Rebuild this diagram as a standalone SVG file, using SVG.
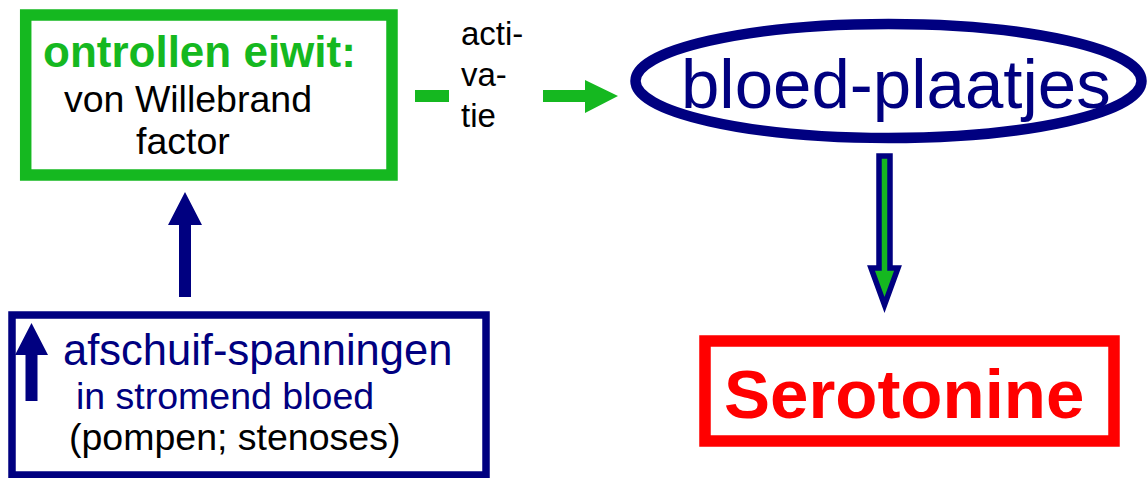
<svg xmlns="http://www.w3.org/2000/svg" width="1148" height="478" viewBox="0 0 1148 478">
<style>
text{font-family:"Liberation Sans",Arial,sans-serif}
.g{fill:#15b820}
.n{fill:#000080}
.k{fill:#000}
.b{font-weight:bold}
</style>
<rect width="1148" height="478" fill="#fff"/>
<g id="node-eiwit">
<rect x="25.7" y="15" width="366.3" height="160" fill="none" stroke="#15b820" stroke-width="11.5"/>
<text x="43" y="67" font-size="44" class="g b">ontrollen eiwit:</text>
<text x="64" y="112" font-size="37.5" class="k">von Willebrand</text>
<text x="136" y="154" font-size="37.5" class="k">factor</text>
</g>
<g id="node-bloedplaatjes">
<ellipse cx="888.5" cy="81" rx="253" ry="57" fill="none" stroke="#000080" stroke-width="10.5"/>
<text x="681" y="108" font-size="69" class="n">bloed-plaatjes</text>
</g>
<g id="node-afschuif">
<rect x="12" y="315" width="474" height="160" fill="none" stroke="#000080" stroke-width="7.5"/>
<polygon points="31.5,323 48,355 37.5,355 37.5,401 25.5,401 25.5,355 15,355" class="n"/>
<text x="63" y="365" font-size="43.5" class="n">afschuif-spanningen</text>
<text x="76" y="409" font-size="37.5" class="n">in stromend bloed</text>
<text x="69" y="450" font-size="37.5" class="k">(pompen; stenoses)</text>
</g>
<g id="node-serotonine">
<rect x="705" y="341" width="409" height="100" fill="none" stroke="#ff0000" stroke-width="11.5"/>
<text x="724" y="418" font-size="69" fill="#ff0000" class="b">Serotonine</text>
</g>
<g id="connectors">
<rect x="415" y="90" width="34" height="12" fill="#15b820"/>
<text x="461" y="45" font-size="33" class="k">acti-</text>
<text x="461" y="86" font-size="33" class="k">va-</text>
<text x="461" y="127" font-size="33" class="k">tie</text>
<polygon points="543,90 585,90 585,80 618,96 585,113 585,102 543,102" fill="#15b820"/>
<polygon points="185,192 202,225 191,225 191,297 179,297 179,225 168,225" fill="#000080"/>
<polygon points="879,156 890,156 890,268 898,268 884.5,305 871,268 879,268" fill="#15b820" stroke="#000080" stroke-width="5.5"/>
</g>
</svg>
